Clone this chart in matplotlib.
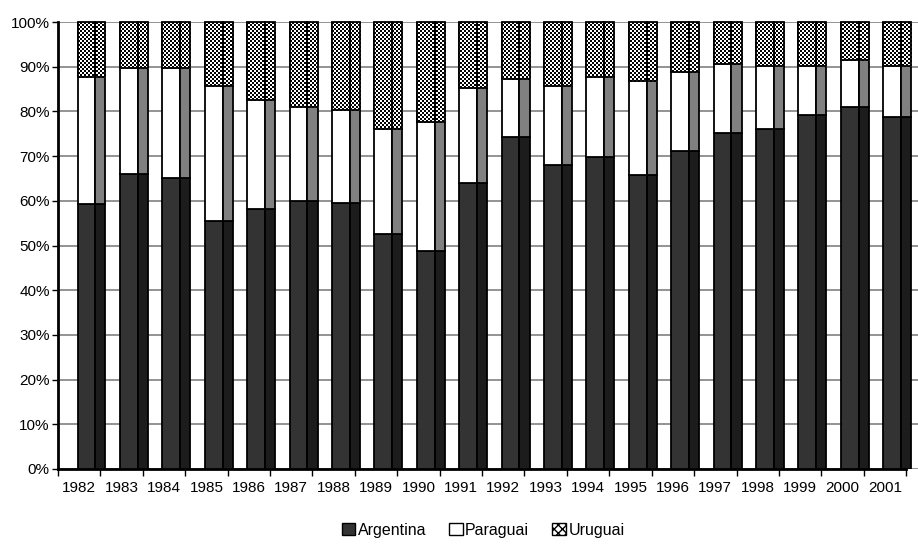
import numpy as np
import matplotlib
matplotlib.use("Agg")
from matplotlib import pyplot as plt
from matplotlib.patches import Patch, Rectangle

plt.rcParams['font.family'] = ['Liberation Sans', 'DejaVu Sans']

years = [str(y) for y in range(1982, 2002)]
argentina = [59.2, 66.1, 65.0, 55.5, 58.1, 59.9, 59.4, 52.5, 48.8, 64.0,
             74.2, 67.9, 69.8, 65.8, 71.1, 75.2, 76.1, 79.2, 80.9, 78.8]
paraguai = [28.6, 23.5, 24.6, 30.2, 24.5, 21.0, 20.9, 23.5, 28.8, 21.2,
            13.1, 17.8, 18.0, 21.1, 17.8, 15.4, 14.1, 11.0, 10.6, 11.4]
uruguai = [12.2, 10.4, 10.4, 14.3, 17.4, 19.1, 19.7, 24.0, 22.4, 14.8,
           12.7, 14.3, 12.2, 13.1, 11.1, 9.4, 9.8, 9.8, 8.5, 9.8]
yticks = [0, 10, 20, 30, 40, 50, 60, 70, 80, 90, 100]

arg = np.array(argentina)
par = np.array(paraguai)
uru = np.array(uruguai)
tot = arg + par + uru
arg, par, uru = arg / tot * 100, par / tot * 100, uru / tot * 100
x = np.arange(len(years))

fig = plt.figure(figsize=(9.18, 5.48), dpi=100)
ax = fig.add_axes([58 / 918, 79 / 548, 860 / 918, 447 / 548])

# front face + darker side face for each stack
front = dict(width=0.42, align='edge', edgecolor='black', linewidth=1.3, zorder=3)
side = dict(width=0.24, align='edge', edgecolor='black', linewidth=1.3, zorder=3)
xf = x - 0.04
xs = x + 0.38
ax.bar(xf, arg, color='#333333', **front)
ax.bar(xs, arg, color='#1c1c1c', **side)
ax.bar(xf, par, bottom=arg, color='white', **front)
ax.bar(xs, par, bottom=arg, color='#808080', **side)
uf = ax.bar(xf, uru, bottom=arg + par, color='white', **front)
us = ax.bar(xs, uru, bottom=arg + par, color='white', **side)

# checkerboard fill for Uruguai (pixel aligned)
yy, xx = np.mgrid[0:548, 0:918]
checker = ((xx // 2 + yy // 2) % 2).astype(float)
for p in list(uf) + list(us):
    im = fig.figimage(checker, xo=0, yo=0, cmap='gray', vmin=0, vmax=1,
                      origin='lower', zorder=1)
    im.set_clip_path(p)
    fig.add_artist(Rectangle(p.get_xy(), p.get_width(), p.get_height(),
                             fill=False, edgecolor='black', linewidth=1.3,
                             transform=ax.transData, zorder=2))

ax.set_xlim(-0.5, 19.78)
ax.set_ylim(0, 100)
ax.set_yticks(yticks)
ax.set_yticklabels([f'{v}%' for v in yticks], fontsize=11)
ax.set_xticks(np.arange(-0.5, 20, 1))
ax.set_xticklabels([])
ax.set_xticks(x, minor=True)
ax.set_xticklabels(years, minor=True, fontsize=11)
ax.tick_params(axis='x', which='major', length=5, width=1, direction='out')
ax.tick_params(axis='x', which='minor', length=0, pad=9)
ax.tick_params(axis='y', length=4, width=1, direction='out', pad=2)
ax.yaxis.grid(True, color='#808080', linewidth=1.2)
ax.set_axisbelow(True)
for s in ['top', 'right']:
    ax.spines[s].set_visible(False)
ax.spines['left'].set_linewidth(2)
ax.spines['bottom'].set_linewidth(2)
ax.spines['bottom'].set_bounds(-0.5, 19.5)

handles = [Patch(facecolor='#333333', edgecolor='black', label='Argentina'),
           Patch(facecolor='white', edgecolor='black', label='Paraguai'),
           Patch(facecolor='white', edgecolor='black', hatch='xxxx', label='Uruguai')]
fig.legend(handles=handles, loc='center', bbox_to_anchor=(483 / 918, 1 - 530 / 548),
           ncol=3, frameon=False, fontsize=11.5, handlelength=0.85, handleheight=0.85,
           handletextpad=0.15, columnspacing=1.45, borderpad=0)

fig.savefig('out.png', dpi=100)
